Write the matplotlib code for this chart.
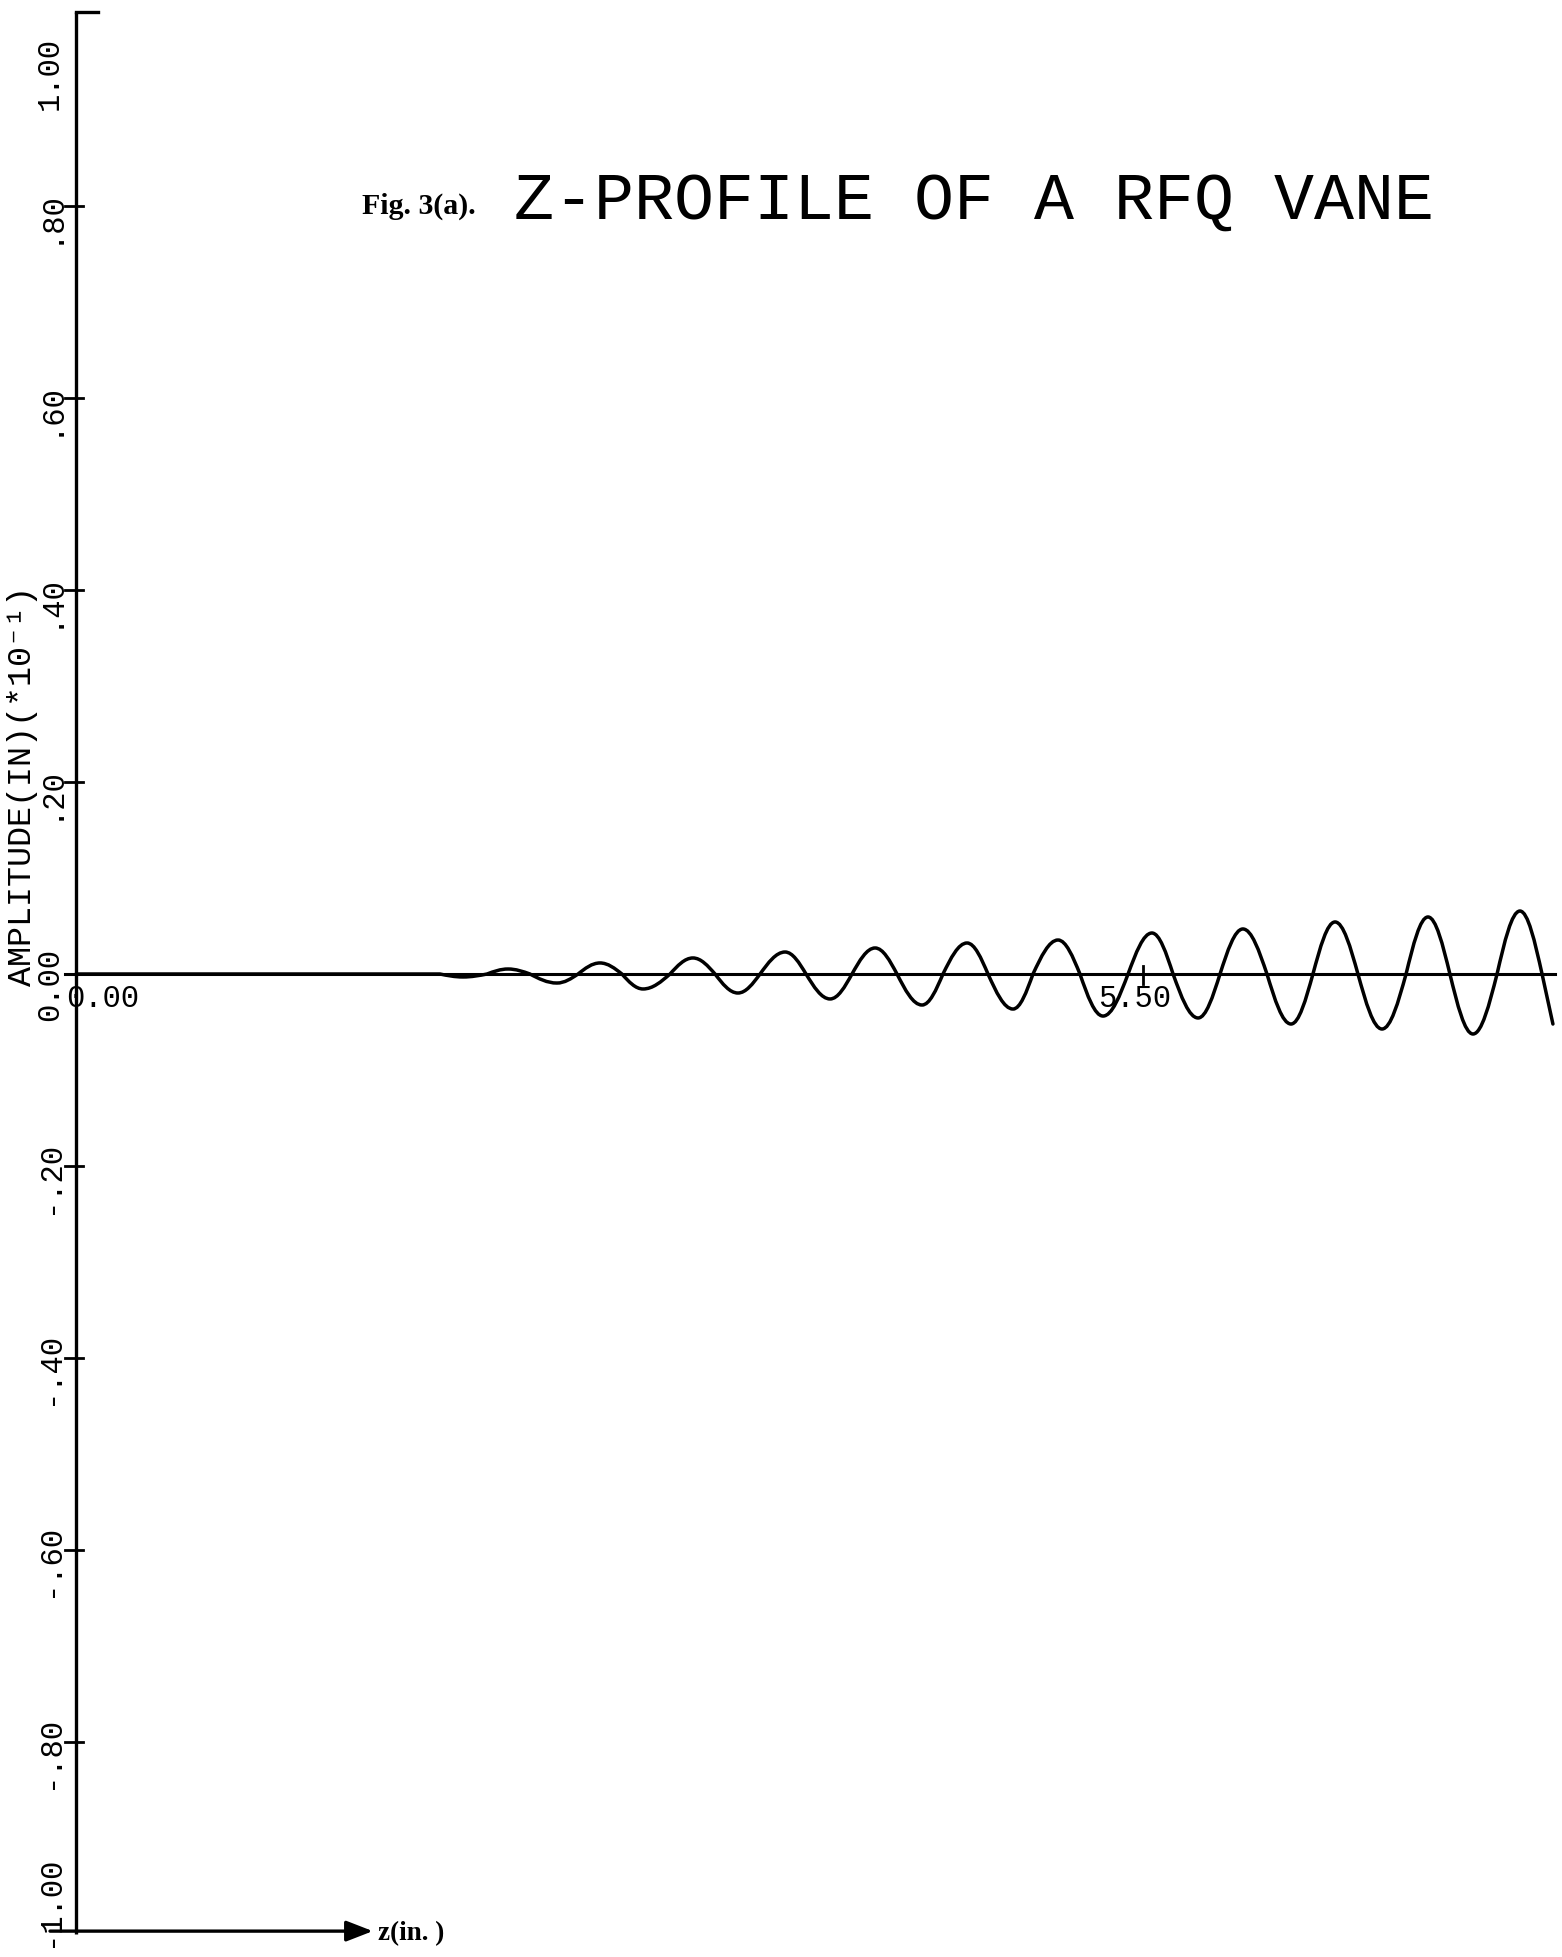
import matplotlib
matplotlib.use("Agg")
import matplotlib.pyplot as plt
from matplotlib.path import Path
from matplotlib.patches import PathPatch

# ---------------- data ----------------
y_ticks = [1.00, 0.80, 0.60, 0.40, 0.20, 0.00, -0.20, -0.40, -0.60, -0.80, -1.00]
y_tick_labels = ["1.00", ".80", ".60", ".40", ".20", "0.00",
                 "-.20", "-.40", "-.60", "-.80", "-1.00"]
x_ticks = [0.00, 5.50]
x_tick_labels = ["0.00", "5.50"]

# z (in.) and amplitude (in. * 10^-1): zero crossings and extrema of the vane profile
z_in = [0.000, 1.876, 1.995, 2.119, 2.227, 2.340, 2.479, 2.588, 2.701, 2.814,
        2.923, 3.062, 3.180, 3.294, 3.412, 3.526, 3.655, 3.763, 3.887, 4.000,
        4.119, 4.232, 4.361, 4.469, 4.593, 4.701, 4.830, 4.933, 5.062, 5.175,
        5.294, 5.423, 5.546, 5.655, 5.784, 5.897, 6.015, 6.139, 6.263, 6.376,
        6.490, 6.608, 6.732, 6.856, 6.969, 7.082, 7.201, 7.325, 7.443, 7.557,
        7.613]
amp = [0.0, 0.0, -0.0031, 0.0, 0.0052, 0.0, -0.0094, 0.0, 0.0115, 0.0,
       -0.0156, 0.0, 0.0167, 0.0, -0.0198, 0.0, 0.0229, 0.0, -0.0260, 0.0,
       0.0271, 0.0, -0.0323, 0.0, 0.0323, 0.0, -0.0365, 0.0, 0.0354, 0.0,
       -0.0438, 0.0, 0.0427, 0.0, -0.0458, 0.0, 0.0469, 0.0, -0.0521, 0.0,
       0.0542, 0.0, -0.0573, 0.0, 0.0594, 0.0, -0.0625, 0.0, 0.0656, 0.0,
       -0.0521]

title_fig = "Fig. 3(a)."
title_main = "Z-PROFILE OF A RFQ VANE"
y_label = "AMPLITUDE(IN)(*10\u207b\u00b9)"
x_label = "z(in. )"

# ---------------- figure ----------------
W, H = 1562, 1958
fig = plt.figure(figsize=(W / 100, H / 100), dpi=100)
fig.patch.set_facecolor("white")
ax = fig.add_axes([0, 0, 1, 1])
X0, Y0, PXZ, PXA = 76, 975, 194.0, 960.0
ax.set_xlim(-X0 / PXZ, (W - X0) / PXZ)
ax.set_ylim((Y0 - H) / PXA, Y0 / PXA)
ax.axis("off")

def fx(px):
    return px / W

def fy(py):
    return 1 - py / H

MONO = ["Liberation Mono", "DejaVu Sans Mono"]
SERIF = ["Liberation Serif", "DejaVu Serif"]
K = "black"

# vertical axis with top cap
ax.plot([0, 0], [y_ticks[-1], y_ticks[0] + 0.002], color=K, lw=2.4, solid_capstyle="butt")
ax.plot([0, 0.115], [y_ticks[0] + 0.002, y_ticks[0] + 0.002], color=K, lw=2.4)
# y tick crosses
for t in y_ticks[1:-1]:
    if t == 0:
        continue
    ax.plot([-0.057, 0.036], [t, t], color=K, lw=2.0)
# zero line
ax.plot([-0.057, 7.624], [0, 0], color=K, lw=2.2)
# x tick at 5.50
ax.plot([x_ticks[1], x_ticks[1]], [-0.0104, 0.0083], color=K, lw=2.0)

# bottom arrow (z direction)
ax.annotate("", xy=(1.53, y_ticks[-1] + 0.003), xytext=(-0.134, y_ticks[-1] + 0.003),
            arrowprops=dict(arrowstyle="-|>,head_length=0.9,head_width=0.35",
                            color=K, lw=2.4, mutation_scale=18,
                            shrinkA=0, shrinkB=0))

# curve: quarter-sine cubic Bezier segments between crossings and extrema
verts = [(z_in[0], amp[0])]
codes = [Path.MOVETO]
n = len(z_in)
for i in range(1, n):
    x0, y0 = z_in[i - 1], amp[i - 1]
    x1, y1 = z_in[i], amp[i]
    dx = x1 - x0
    if i == n - 1 or (y0 == 0 and y1 == 0):
        verts.append((x1, y1)); codes.append(Path.LINETO)
    elif y0 == 0:
        verts += [(x0 + 0.3258 * dx, 0.5118 * y1), (x0 + 0.6381 * dx, y1), (x1, y1)]
        codes += [Path.CURVE4] * 3
    else:
        verts += [(x0 + 0.3619 * dx, y0), (x0 + 0.6742 * dx, 0.5118 * y0), (x1, y1)]
        codes += [Path.CURVE4] * 3
ax.add_patch(PathPatch(Path(verts, codes), facecolor="none", edgecolor=K, lw=2.5,
                       joinstyle="round", capstyle="round"))

# y tick labels (rotated, plotter style)
label_centre = {"1.00": 73, "-1.00": 1901}
for t, lab in zip(y_ticks, y_tick_labels):
    ty = Y0 - t * PXA
    cy = label_centre.get(lab, ty + 10)
    fig.text(fx(50), fy(cy), lab, rotation=90, ha="center", va="center",
             family=MONO, fontsize=22, color=K)

# x tick labels
fig.text(fx(103), fy(999), x_tick_labels[0], ha="center", va="center",
         family=MONO, fontsize=22, color=K)
fig.text(fx(1135), fy(999), x_tick_labels[1], ha="center", va="center",
         family=MONO, fontsize=22, color=K)

# y-axis label
fig.text(fx(23), fy(786), y_label, rotation=90, ha="center", va="center",
         family=MONO, fontsize=24, color=K)

# x-axis label
fig.text(fx(378), fy(1934), x_label, ha="left", va="center",
         family=SERIF, fontsize=19.5, fontweight="bold", color=K)

# titles
fig.text(fx(362), fy(214), title_fig, ha="left", va="baseline",
         family=SERIF, fontsize=21.5, fontweight="bold", color=K)
fig.text(fx(974), fy(219), title_main, ha="center", va="baseline",
         family=MONO, fontsize=48, color=K)

fig.savefig("out.png", dpi=100, facecolor="white")
